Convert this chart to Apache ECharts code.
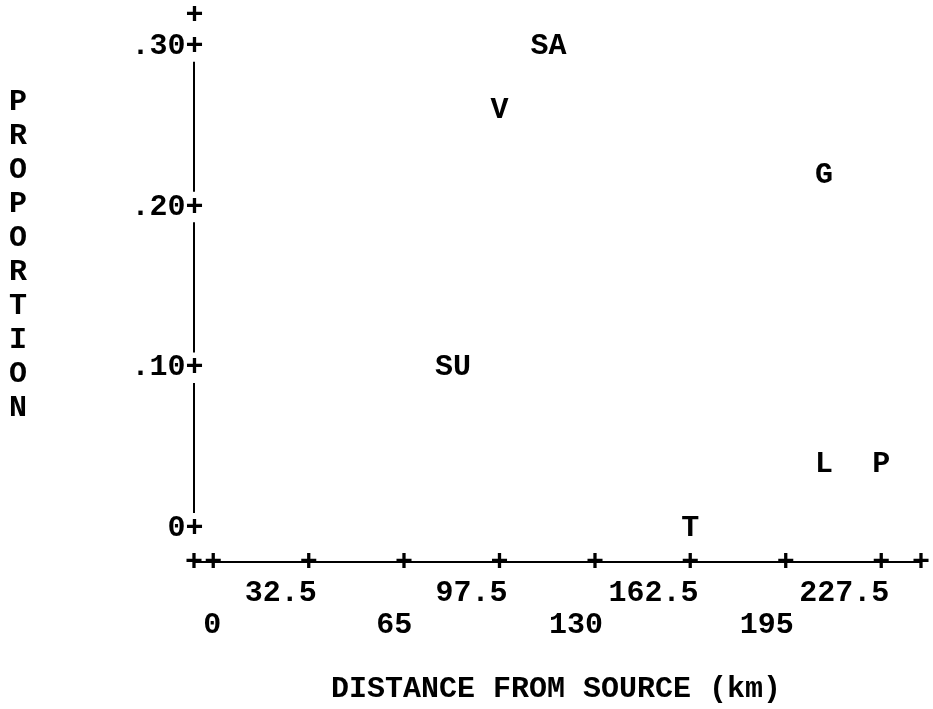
<!DOCTYPE html>
<html>
<head>
<meta charset="utf-8">
<script src="https://cdn.jsdelivr.net/npm/echarts@6/dist/echarts.min.js"></script>
<style>
html,body{margin:0;padding:0;background:#fff;}
#chart{width:933px;height:709px;}
</style>
</head>
<body>
<div id="chart"></div>
<script>
// ---- data ----
const categories = ['SA', 'V', 'G', 'SU', 'L', 'P', 'T'];
const distance   = [114.2, 97.5, 208, 81.7, 208, 227.5, 162.5];
const proportion = [0.30, 0.26, 0.22, 0.10, 0.04, 0.04, 0.0];

const xUpperValues = [32.5, 97.5, 162.5, 227.5];
const xUpperLabels = ['32.5', '97.5', '162.5', '227.5'];
const xLowerValues = [0, 65, 130, 195];
const xLowerLabels = ['0', '65', '130', '195'];
const xTickValues  = [0, 32.5, 65, 97.5, 130, 162.5, 195, 227.5];

const yTickValues  = [0, 0.1, 0.2, 0.3];
const yTickLabels  = ['0', '.10', '.20', '.30'];

const xTitle = 'DISTANCE FROM SOURCE (km)';
const yTitle = 'PROPORTION';

// ---- axis extents (typewriter frame) ----
const X_MIN = -6.54, X_MAX = 241.05;
const Y_MIN = -0.021, Y_MAX = 0.3196;

const FONT = '"Liberation Mono", "DejaVu Sans Mono", monospace';
const FS = 30;
const LABEL_SHIFT = 2.75;   // shift of right-aligned tick labels (data units)
const Y_GAP = 0.0095;       // gap around "+" on the vertical axis

const xPlusValues = [X_MIN].concat(xTickValues, [X_MAX]);
const yPlusValues = yTickValues.concat([Y_MAX]);

function near(a, b) { return Math.abs(a - b) < 1e-6; }

const baseX = {
  type: 'value', min: X_MIN, max: X_MAX, gridIndex: 0, position: 'bottom',
  splitLine: {show: false}, axisTick: {show: false},
  axisLine: {show: false, onZero: false}
};

const textStyle = {fontFamily: FONT, fontWeight: 'bold', fontSize: FS, color: '#000'};

const ySegments = [];
for (let i = 0; i < yTickValues.length - 1; i++) {
  ySegments.push([
    {coord: [X_MIN, yTickValues[i] + Y_GAP]},
    {coord: [X_MIN, yTickValues[i + 1] - Y_GAP]}
  ]);
}

const chart = echarts.init(document.getElementById('chart'));
chart.setOption({
  animation: false,
  backgroundColor: '#fff',
  title: [
    {
      text: yTitle.split('').join('\n'),
      left: 9, top: 85, padding: 0,
      textStyle: Object.assign({}, textStyle, {lineHeight: 34})
    },
    {
      text: xTitle,
      left: 331, top: 672, padding: 0,
      textStyle: Object.assign({}, textStyle, {lineHeight: 34})
    }
  ],
  grid: {left: 194, right: 8, top: 15, bottom: 147, containLabel: false},
  xAxis: [
    Object.assign({}, baseX, {
      axisLine: {show: true, onZero: false, lineStyle: {color: '#000', width: 2}},
      axisLabel: Object.assign({}, textStyle, {
        customValues: xPlusValues, showMinLabel: true, showMaxLabel: true,
        margin: 0, verticalAlign: 'middle', align: 'center',
        formatter: () => '+'
      })
    }),
    Object.assign({}, baseX, {
      axisLabel: Object.assign({}, textStyle, {
        customValues: xUpperValues.map(v => v + LABEL_SHIFT),
        margin: 31, verticalAlign: 'middle', align: 'right',
        formatter: (v) => {
          const i = xUpperValues.findIndex(u => near(u + LABEL_SHIFT, v));
          return i >= 0 ? xUpperLabels[i] : '';
        }
      })
    }),
    Object.assign({}, baseX, {
      axisLabel: Object.assign({}, textStyle, {
        customValues: xLowerValues.map(v => v + LABEL_SHIFT),
        margin: 63, verticalAlign: 'middle', align: 'right',
        formatter: (v) => {
          const i = xLowerValues.findIndex(u => near(u + LABEL_SHIFT, v));
          return i >= 0 ? xLowerLabels[i] : '';
        }
      })
    })
  ],
  yAxis: {
    type: 'value', min: Y_MIN, max: Y_MAX,
    splitLine: {show: false}, axisTick: {show: false},
    axisLine: {show: false, onZero: false},
    axisLabel: Object.assign({}, textStyle, {
      customValues: yPlusValues, showMinLabel: true, showMaxLabel: true,
      margin: -9.5, align: 'right', verticalAlign: 'middle',
      formatter: (v) => {
        const i = yTickValues.findIndex(u => near(u, v));
        return (i >= 0 ? yTickLabels[i] : '') + '+';
      }
    })
  },
  series: [{
    type: 'scatter',
    xAxisIndex: 0, yAxisIndex: 0,
    clip: false,
    symbol: 'circle', symbolSize: 1,
    itemStyle: {color: 'rgba(0,0,0,0)', opacity: 1},
    data: categories.map((c, i) => ({name: c, value: [distance[i], proportion[i]]})),
    label: Object.assign({}, textStyle, {
      show: true, position: 'inside', align: 'center', verticalAlign: 'middle',
      formatter: (p) => p.name
    }),
    emphasis: {disabled: true},
    markLine: {
      silent: true, symbol: ['none', 'none'],
      label: {show: false},
      lineStyle: {color: '#000', width: 2, type: 'solid', opacity: 1},
      data: ySegments
    }
  }]
});
</script>
</body>
</html>
